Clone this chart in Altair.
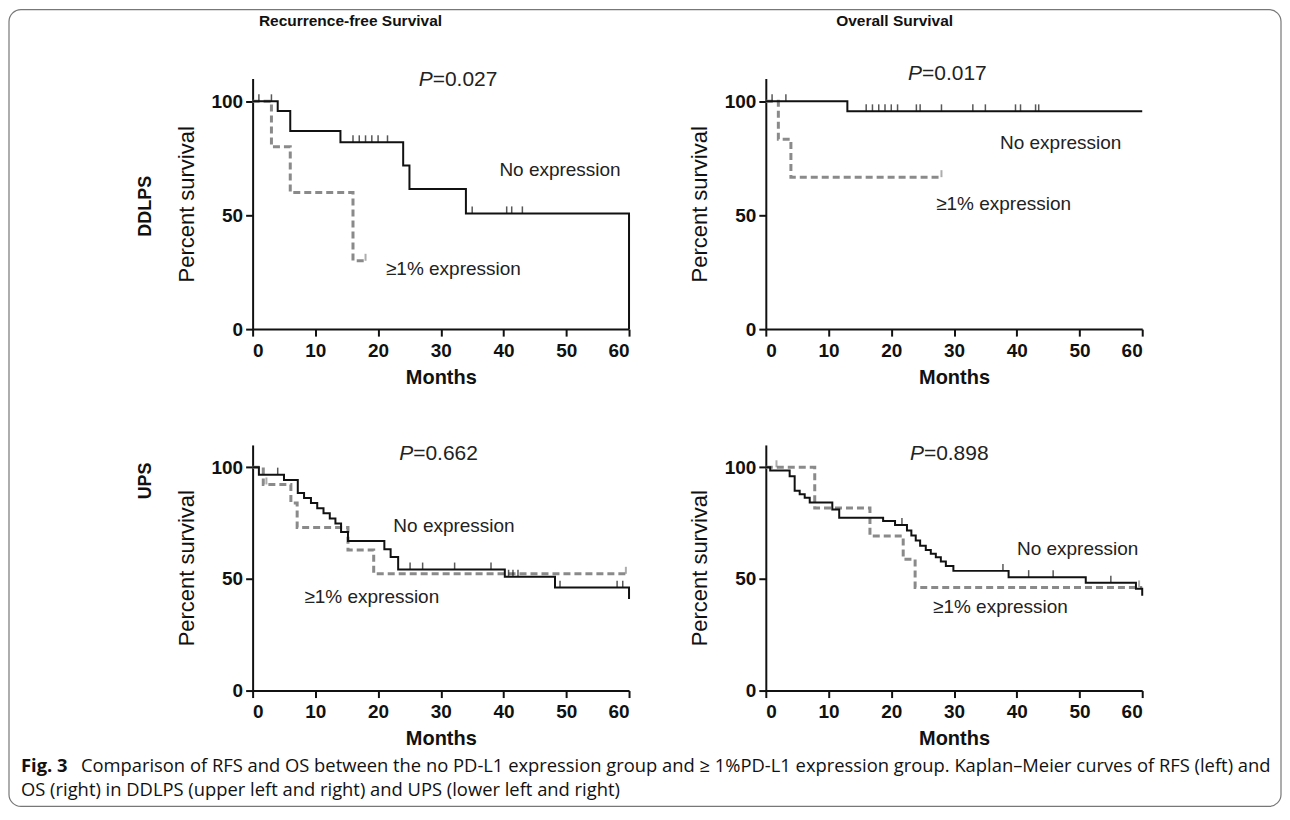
import altair as alt
import pandas as pd

# ---------------- data ----------------
MONTH_TICKS = [0, 10, 20, 30, 40, 50, 60]
PCT_TICKS = [0, 50, 100]

# Top-left: Recurrence-free survival, DDLPS
rfs_dd_no_t = [0, 4, 6, 14, 24, 25, 34, 60]
rfs_dd_no_s = [100, 95.7, 87.0, 82.0, 71.8, 61.5, 50.8, 0]
rfs_dd_no_cens = [1, 3, 16, 17, 18, 19, 20, 21.5, 35, 40.5, 41.3, 43]
rfs_dd_ex_t = [0, 3, 6, 16, 18]
rfs_dd_ex_s = [100, 80, 60, 30, 30]
rfs_dd_ex_cens = [18]

# Top-right: Overall survival, DDLPS
os_dd_no_t = [0, 13, 60]
os_dd_no_s = [100, 95.6, 95.6]
os_dd_no_cens = [1, 3.2, 16, 17, 18, 19, 20, 21, 24, 24.6, 28, 33, 35, 39.8, 40.6, 43, 43.5]
os_dd_ex_t = [0, 2, 4, 28]
os_dd_ex_s = [100, 83.3, 66.7, 66.7]
os_dd_ex_cens = [28]

# Bottom-left: Recurrence-free survival, UPS
rfs_ups_no_t = [0, 1, 5, 7.2, 8.2, 9.3, 10.3, 11.3, 12.3, 13.2, 14.1, 15.2, 21, 22, 23.2, 40.2, 48.2, 60]
rfs_ups_no_s = [100, 96.7, 94.3, 88.5, 86.2, 84.0, 81.7, 79.4, 77.1, 74.8, 71.0, 67.0, 63.3, 59.8, 54.2, 51.0, 46.1, 41.0]
rfs_ups_no_cens = [4, 25.1, 27.1, 32.2, 38.0, 40.8, 41.5, 42.3, 49.0, 58.1, 59.0]
rfs_ups_ex_t = [0, 1.7, 6.1, 7.1, 15.2, 19.3, 60]
rfs_ups_ex_s = [100, 92.3, 84.0, 73.0, 63.0, 52.3, 52.3]
rfs_ups_ex_cens = [2.2, 59.5]

# Bottom-right: Overall survival, UPS
os_ups_no_t = [0, 0.7, 3.8, 4.6, 5.4, 6.2, 7.0, 10.6, 11.7, 18.7, 20.6, 22.5, 23.2, 23.9, 24.6, 25.5,
               26.3, 27.1, 27.9, 28.7, 29.9, 38.7, 51.0, 59.0, 60]
os_ups_no_s = [100, 98.5, 96.0, 89.5, 87.9, 86.3, 84.2, 81.1, 77.4, 75.9, 74.1, 71.7, 69.4, 67.2, 64.9, 63.0,
               61.3, 59.7, 57.8, 55.8, 53.6, 50.8, 48.3, 45.6, 42.5]
os_ups_no_cens = [21.7, 37.8, 41.9, 45.8, 55.0]
os_ups_ex_t = [0, 7.8, 16.6, 21.9, 23.8, 60]
os_ups_ex_s = [100, 81.8, 69.2, 58.8, 46.2, 46.2]
os_ups_ex_cens = [1.7, 59.5]

P_VALUES = ["=0.027", "=0.017", "=0.662", "=0.898"]
COL_TITLES = ["Recurrence-free Survival", "Overall Survival"]
ROW_TITLES = ["DDLPS", "UPS"]
LBL_NO = "No expression"
LBL_EX = "\u22651% expression"
CAPTION_BOLD = "Fig. 3"
CAPTION_1 = ("Comparison of RFS and OS between the no PD-L1 expression group and \u2265 1%PD-L1 "
             "expression group. Kaplan\u2013Meier curves of RFS (left) and")
CAPTION_2 = "OS (right) in DDLPS (upper left and right) and UPS (lower left and right)"

FONT = "Liberation Sans"
BLACK = "#111111"
GREY = "#8a8a8a"


def step_df(t, s):
    return pd.DataFrame({"t": t, "s": s})


def censor_df(cens, t, s):
    vals = []
    for c in cens:
        v = s[0]
        for ti, si in zip(t, s):
            if ti <= c:
                v = si
        vals.append(v)
    return pd.DataFrame({"t": cens, "s": vals})


def panel(no_t, no_s, no_c, ex_t, ex_s, ex_c, height, p_text, p_pos, no_pos, ex_pos, extras):
    xenc = alt.X("t:Q", scale=alt.Scale(domain=[0, 60], nice=False),
                 axis=alt.Axis(values=MONTH_TICKS, title="Months", format="d"))
    yenc = alt.Y("s:Q", scale=alt.Scale(domain=[0, 110], nice=False),
                 axis=alt.Axis(values=PCT_TICKS, title="Percent survival", format="d"))

    ex_line = alt.Chart(step_df(ex_t, ex_s)).mark_line(
        interpolate="step-after", color=GREY, strokeWidth=3, strokeDash=[7, 4]
    ).encode(x=xenc, y=yenc)
    no_line = alt.Chart(step_df(no_t, no_s)).mark_line(
        interpolate="step-after", color=BLACK, strokeWidth=2
    ).encode(x=xenc, y=yenc)
    ex_ticks = alt.Chart(censor_df(ex_c, ex_t, ex_s)).mark_tick(
        orient="vertical", color=GREY, thickness=2, size=7, yOffset=-3.5
    ).encode(x="t:Q", y="s:Q")
    no_ticks = alt.Chart(censor_df(no_c, no_t, no_s)).mark_tick(
        orient="vertical", color=BLACK, thickness=1.5, size=7, yOffset=-3.5
    ).encode(x="t:Q", y="s:Q")

    p_it = alt.Chart().mark_text(font=FONT, fontSize=21, fontStyle="italic", align="right",
                                 baseline="middle", color="#222").encode(
        x=alt.datum(p_pos[0]), y=alt.datum(p_pos[1]), text=alt.value("P"))
    p_rest = alt.Chart().mark_text(font=FONT, fontSize=21, align="left",
                                   baseline="middle", color="#222").encode(
        x=alt.datum(p_pos[0]), y=alt.datum(p_pos[1]), text=alt.value(p_text))
    no_lbl = alt.Chart().mark_text(font=FONT, fontSize=19, align="center",
                                   baseline="middle", color="#222").encode(
        x=alt.datum(no_pos[0]), y=alt.datum(no_pos[1]), text=alt.value(LBL_NO))
    ex_lbl = alt.Chart().mark_text(font=FONT, fontSize=19, align="center",
                                   baseline="middle", color="#222").encode(
        x=alt.datum(ex_pos[0]), y=alt.datum(ex_pos[1]), text=alt.value(LBL_EX))

    layers = [ex_line, no_line, ex_ticks, no_ticks, p_it, p_rest, no_lbl, ex_lbl] + extras
    return alt.layer(*layers).properties(width=377, height=height)


def pix_text(text, x, y, size, weight="normal", angle=0, font=FONT, align="center", color="#111"):
    return alt.Chart().mark_text(font=font, fontSize=size, fontWeight=weight, angle=angle,
                                 align=align, baseline="middle", color=color).encode(
        x=alt.value(x), y=alt.value(y), text=alt.value(text))


border = alt.Chart().mark_rect(fill=None, filled=False, stroke="#777777", strokeWidth=1.2,
                               cornerRadius=12).encode(
    x=alt.value(-244), x2=alt.value(1030), y=alt.value(-69), y2=alt.value(729))

tl_extra = [
    border,
    pix_text(COL_TITLES[0], 98, -58, 15.5, "bold"),
    pix_text(ROW_TITLES[0], -107, 128, 18, "bold", angle=270),
]
tr_extra = [
    pix_text(COL_TITLES[1], 129, -58, 15.5, "bold"),
]
bl_extra = [
    pix_text(ROW_TITLES[1], -107, 36, 18, "bold", angle=270),
    pix_text(CAPTION_BOLD, -232, 322, 18.4, "bold", font="Open Sans", align="left"),
    pix_text(CAPTION_1, -172, 322, 18.4, font="Open Sans", align="left"),
    pix_text(CAPTION_2, -232, 346, 18.4, font="Open Sans", align="left"),
]

tl = panel(rfs_dd_no_t, rfs_dd_no_s, rfs_dd_no_cens, rfs_dd_ex_t, rfs_dd_ex_s, rfs_dd_ex_cens,
           251, P_VALUES[0], (28.7, 109.5), (49, 70), (32, 26.3), tl_extra)
tr = panel(os_dd_no_t, os_dd_no_s, os_dd_no_cens, os_dd_ex_t, os_dd_ex_s, os_dd_ex_cens,
           251, P_VALUES[1], (24.9, 112), (47, 81.7), (37.9, 54.7), tr_extra)
bl = panel(rfs_ups_no_t, rfs_ups_no_s, rfs_ups_no_cens, rfs_ups_ex_t, rfs_ups_ex_s, rfs_ups_ex_cens,
           246, P_VALUES[2], (25.6, 105.8), (32.1, 73.7), (19, 42), bl_extra)
br = panel(os_ups_no_t, os_ups_no_s, os_ups_no_cens, os_ups_ex_t, os_ups_ex_s, os_ups_ex_cens,
           246, P_VALUES[3], (25.2, 105.8), (49.7, 63.4), (37.4, 37.5), [])

chart = alt.concat(tl, tr, bl, br, columns=2, spacing={"row": 116, "column": 137},
                   bounds="flush").properties(padding=0).configure_view(stroke=None).configure_axis(
    grid=False,
    domainColor=BLACK, domainWidth=2,
    tickColor=BLACK, tickWidth=2, tickSize=7,
    labelFont=FONT, labelFontSize=19, labelFontWeight="bold", labelColor="#111",
    titleFont=FONT, titleColor="#111",
).configure_axisX(
    labelPadding=5, titlePadding=7, titleFontSize=20, titleFontWeight="bold",
).configure_axisY(
    labelPadding=3, titlePadding=13, titleFontSize=22, titleFontWeight="normal",
)

chart.save("out.html", embed_options={"renderer": "svg", "actions": False})
